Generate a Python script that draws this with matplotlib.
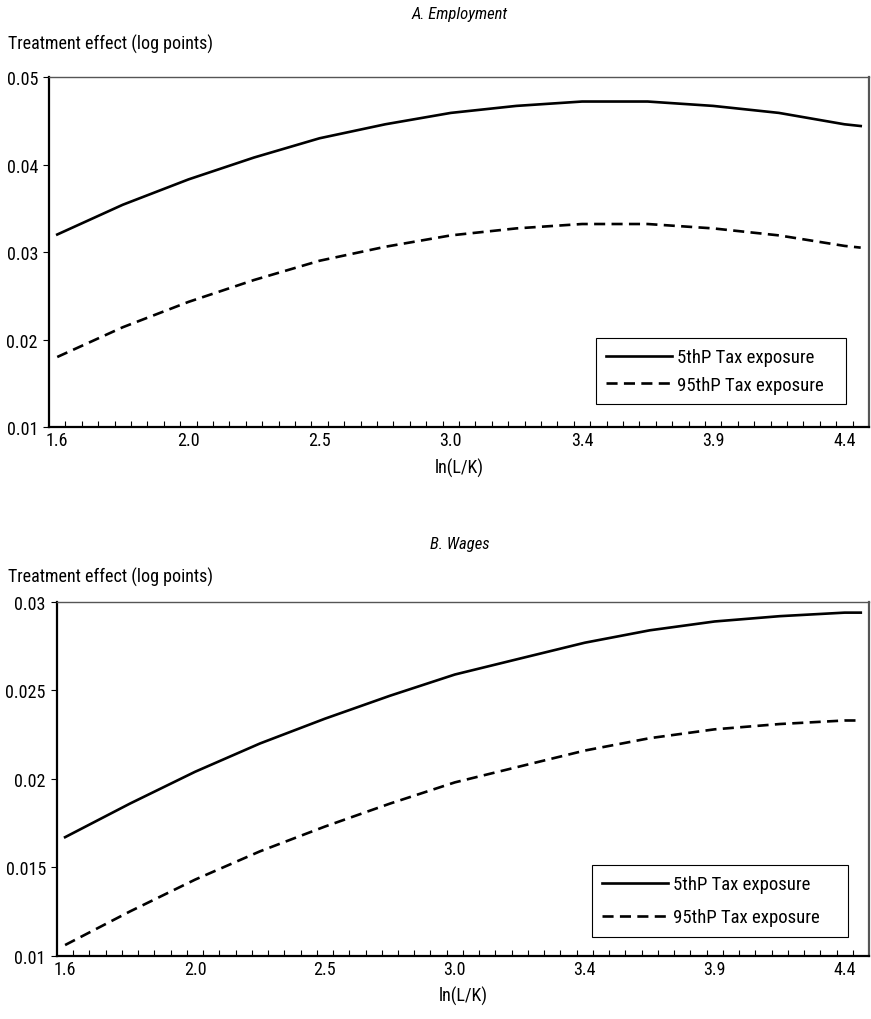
import matplotlib
matplotlib.use("Agg")
import matplotlib.pyplot as plt
from matplotlib import font_manager

# pick a narrow face if one is installed, else fall back
installed = {f.name for f in font_manager.fontManager.ttflist}
narrow = [n for n in ["Liberation Sans Narrow", "Roboto Condensed", "Noto Sans Condensed",
                      "Open Sans Condensed", "DejaVu Sans Condensed", "Arial Narrow"]
          if n in installed]
font_list = narrow + ["Liberation Sans", "DejaVu Sans"]
plt.rcParams['font.family'] = font_list
is_narrow = len(narrow) > 0
fs = 13 if is_narrow else 11.5

# ln(L/K) values where the curves were read
ln_lk = [1.6, 1.833, 2.067, 2.3, 2.533, 2.767, 3.0, 3.233, 3.467, 3.7,
         3.933, 4.167, 4.4, 4.458]

# Panel A: employment
emp_p5 = [0.0320, 0.0354, 0.0383, 0.0408, 0.0430, 0.0446, 0.0459, 0.0467,
          0.0472, 0.0472, 0.0467, 0.0459, 0.0446, 0.0444]
emp_p95 = [0.0180, 0.0214, 0.0243, 0.0268, 0.0290, 0.0306, 0.0319, 0.0327,
           0.0332, 0.0332, 0.0327, 0.0319, 0.0307, 0.0305]

# Panel B: wages
wage_p5 = [0.0167, 0.0186, 0.0204, 0.0220, 0.0234, 0.0247, 0.0259, 0.0268,
           0.0277, 0.0284, 0.0289, 0.0292, 0.0294, 0.0294]
wage_p95 = [0.0106, 0.0125, 0.0143, 0.0159, 0.0173, 0.0186, 0.0198, 0.0207,
            0.0216, 0.0223, 0.0228, 0.0231, 0.0233, 0.0233]

x_labels = ["1.6", "2.0", "2.5", "3.0", "3.4", "3.9", "4.4"]
emp_yticks = [0.01, 0.02, 0.03, 0.04, 0.05]
emp_ylabels = ["0.01", "0.02", "0.03", "0.04", "0.05"]
wage_yticks = [0.01, 0.015, 0.02, 0.025, 0.03]
wage_ylabels = ["0.01", "0.015", "0.02", "0.025", "0.03"]

step = 2.8 / 48
n_cat = 50
x_lo = 1.6 - step / 2
x_hi = x_lo + n_cat * step

fig = plt.figure(figsize=(8.71, 10.2), dpi=100)

ax1 = fig.add_axes([0.0563, 0.5804, 0.9414, 0.3431])
ax2 = fig.add_axes([0.0654, 0.0621, 0.9323, 0.3467])

lw = 1.9
dash = (4.2, 2.4)


def style(ax, p5, p95, yticks, ylabels, anchor, spacing):
    ax.plot(ln_lk, p5, color="black", lw=lw, label="5thP Tax exposure")
    ax.plot(ln_lk, p95, color="black", lw=lw, dashes=dash, label="95thP Tax exposure")
    ax.set_xlim(x_lo, x_hi)
    ax.set_ylim(yticks[0], yticks[-1])
    ax.set_yticks(yticks)
    ax.set_yticklabels(ylabels, fontsize=fs)
    ax.set_xticks([1.6 + k * 8 * step for k in range(7)])
    ax.set_xticklabels(x_labels, fontsize=fs)
    ax.set_xticks([x_lo + k * step for k in range(1, n_cat)], minor=True)
    ax.tick_params(axis="x", which="major", length=0, pad=3)
    ax.tick_params(axis="x", which="minor", direction="in", length=4, width=0.8)
    ax.tick_params(axis="y", which="major", direction="out", length=4, width=0.8, pad=4)
    for s in ["left", "bottom"]:
        ax.spines[s].set_linewidth(1.6)
        ax.spines[s].set_color("black")
    ax.spines["top"].set_color("#555555")
    ax.spines["top"].set_linewidth(1.0)
    ax.spines["right"].set_color("#555555")
    ax.spines["right"].set_linewidth(1.6)
    ax.set_xlabel("ln(L/K)", fontsize=fs, labelpad=6)
    leg = ax.legend(loc="lower left", bbox_to_anchor=anchor, mode="expand",
                    fontsize=fs + 0.5, frameon=True, fancybox=False, framealpha=1,
                    edgecolor="black", handlelength=3.5, labelspacing=spacing,
                    borderpad=0.55, handletextpad=0.25, borderaxespad=0)
    leg.get_frame().set_linewidth(0.8)


style(ax1, emp_p5, emp_p95, emp_yticks, emp_ylabels, (0.667, 0.066, 0.305, 0.1), 0.5)
style(ax2, wage_p5, wage_p95, wage_yticks, wage_ylabels, (0.659, 0.054, 0.315, 0.1), 0.8)

fig.text(0.528, 0.986, "A. Employment", fontsize=fs - 1, style="italic", ha="center", va="center")
fig.text(0.009, 0.956, "Treatment effect (log points)", fontsize=fs, ha="left", va="center")
fig.text(0.528, 0.466, "B. Wages", fontsize=fs - 1, style="italic", ha="center", va="center")
fig.text(0.009, 0.434, "Treatment effect (log points)", fontsize=fs, ha="left", va="center")

fig.savefig("out.png", dpi=100)
